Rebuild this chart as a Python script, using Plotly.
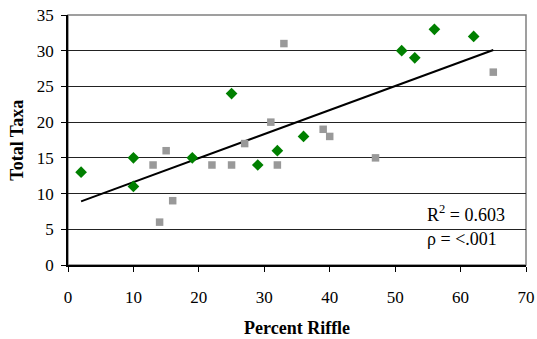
import plotly.graph_objects as go

# Green diamond series
green_x = [2, 10, 10, 19, 25, 29, 32, 36, 51, 53, 56, 62]
green_y = [13, 15, 11, 15, 24, 14, 16, 18, 30, 29, 33, 32]
# Gray square series
gray_x = [13, 14, 15, 16, 22, 25, 27, 31, 32, 33, 39, 40, 47, 65]
gray_y = [14, 6, 16, 9, 14, 14, 17, 20, 14, 31, 19, 18, 15, 27]
# Trend line endpoints
trend_x = [2, 65]
trend_y = [8.9, 30.1]

x_ticks = [0, 10, 20, 30, 40, 50, 60, 70]
y_ticks = [0, 5, 10, 15, 20, 25, 30, 35]

FF = "Liberation Serif"

fig = go.Figure()
fig.add_trace(go.Scatter(x=trend_x, y=trend_y, mode="lines",
                         line=dict(color="black", width=2), showlegend=False))
fig.add_trace(go.Scatter(x=gray_x, y=gray_y, mode="markers",
                         marker=dict(symbol="square", size=7.5, color="#999999"),
                         showlegend=False))
fig.add_trace(go.Scatter(x=green_x, y=green_y, mode="markers",
                         marker=dict(symbol="diamond", size=9, color="#008000"),
                         showlegend=False))

fig.add_shape(type="rect", xref="paper", yref="paper", x0=0, y0=0, x1=1, y1=1,
              line=dict(color="#808080", width=1.5), layer="below")

fig.add_annotation(xref="x", yref="y", x=54.6, y=7.2, xanchor="left",
                   text="R<sup>2</sup> = 0.603", showarrow=False,
                   font=dict(family=FF, size=18, color="black"))
fig.add_annotation(xref="x", yref="y", x=54.6, y=3.7, xanchor="left",
                   text="ρ = <.001", showarrow=False,
                   font=dict(family=FF, size=18, color="black"))

# Axis titles
fig.add_annotation(xref="paper", yref="paper", x=0.5, y=-0.25, yanchor="middle",
                   text="<b>Percent Riffle</b>", showarrow=False,
                   font=dict(family=FF, size=18, color="black"))
fig.add_annotation(xref="paper", yref="paper", x=-0.112, y=0.5, xanchor="center",
                   text="<b>Total Taxa</b>", showarrow=False, textangle=-90,
                   font=dict(family=FF, size=18, color="black"))

fig.update_layout(
    width=537, height=339,
    margin=dict(l=68, r=11, t=15, b=74, autoexpand=False),
    paper_bgcolor="white", plot_bgcolor="white",
    font=dict(family=FF, size=17, color="black"),
    xaxis=dict(range=[0, 70], tickvals=x_ticks, ticks="outside", ticklen=5,
               tickcolor="black", showline=True, linecolor="black", linewidth=1.5,
               showgrid=False, zeroline=False, automargin=False,
               ticklabelstandoff=11,
               tickfont=dict(family=FF, size=17)),
    yaxis=dict(range=[0, 35], tickvals=y_ticks, ticks="outside", ticklen=5,
               tickcolor="black", showline=True, linecolor="black", linewidth=1.5,
               showgrid=True, gridcolor="#222222", gridwidth=1, zeroline=False,
               automargin=False, ticklabelstandoff=4,
               tickfont=dict(family=FF, size=17)),
)

fig.write_html("out.html")
